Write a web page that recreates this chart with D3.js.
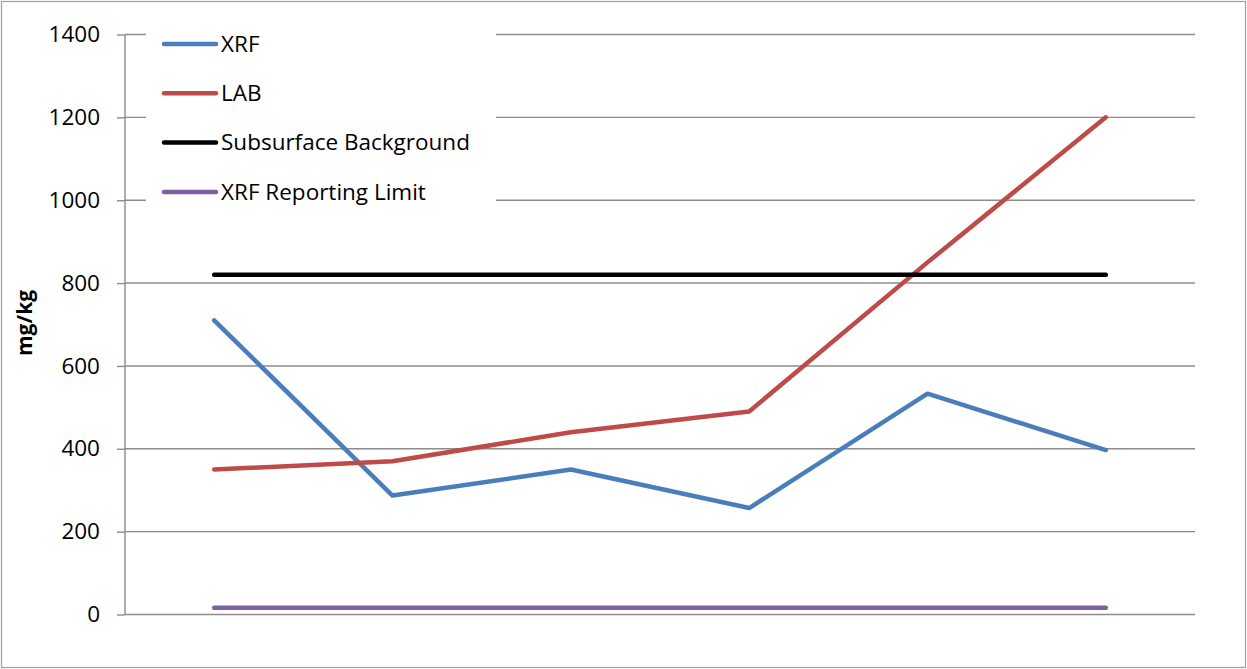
<!DOCTYPE html>
<html><head><meta charset="utf-8">
<script src="https://cdn.jsdelivr.net/npm/d3@7"></script>
<style>html,body{margin:0;padding:0;background:#fff;}svg{display:block;}</style>
</head><body><svg id="c" width="1247" height="669"></svg>
<script>
const categories = ["1","2","3","4","5","6"];
const xrf = [710, 287, 350, 257, 533, 397];
const lab = [350, 370, 440, 490, 850, 1200];
const background = [820, 820, 820, 820, 820, 820];
const reportingLimit = [16, 16, 16, 16, 16, 16];
const yTicks = [0, 200, 400, 600, 800, 1000, 1200, 1400];
const seriesNames = ["XRF", "LAB", "Subsurface Background", "XRF Reporting Limit"];
const seriesColors = ["#4a7ebb", "#be4b48", "#000000", "#7d60a0"];
const yLabel = "mg/kg";

const svg = d3.select("#c");
const font = "'Open Sans', sans-serif";
const L = 125, R = 1195, T = 34.5, B = 614.5;

svg.append("rect").attr("x",1.5).attr("y",1.5).attr("width",1244).attr("height",666)
  .attr("fill","#fff").attr("stroke","#a0a0a0").attr("stroke-width",1.2);

const x = d3.scalePoint().domain(categories).range([L, R]).padding(0.5);
const y = d3.scaleLinear().domain([0, 1400]).range([B, T]);

// gridlines
svg.append("g").selectAll("line").data(yTicks.filter(d=>d>0)).join("line")
  .attr("x1", L).attr("x2", R).attr("y1", d=>y(d)).attr("y2", d=>y(d))
  .attr("stroke","#8c8c8c").attr("stroke-width",1.4);

// y axis
const ya = svg.append("g").attr("transform",`translate(${L},0)`)
  .call(d3.axisLeft(y).tickValues(yTicks).tickSize(8).tickPadding(17).tickFormat(d3.format("d")));
ya.select(".domain").attr("stroke","#8c8c8c").attr("stroke-width",1.4).attr("d",`M0,${T}V${B}`);
ya.selectAll(".tick line").attr("stroke","#8c8c8c").attr("stroke-width",1.4);
ya.selectAll(".tick text").attr("font-family",font).attr("font-size",22.5).attr("fill","#000");

// x axis line
svg.append("line").attr("x1",L).attr("x2",R).attr("y1",B).attr("y2",B)
  .attr("stroke","#8c8c8c").attr("stroke-width",1.4);

// y label
svg.append("text").attr("transform",`translate(32,${323}) rotate(-90)`)
  .attr("text-anchor","middle").attr("font-family",font).attr("font-weight","bold")
  .attr("font-size",21).text(yLabel);

// legend box
const legendBoxX = 146, legendBoxY = 22, legendBoxW = 350, legendBoxH = 190;
svg.append("rect").attr("x",legendBoxX).attr("y",legendBoxY).attr("width",legendBoxW).attr("height",legendBoxH).attr("fill","#fff");

// series
const allSeries = [xrf, lab, background, reportingLimit];
const line = d3.line().x((d,i)=>x(categories[i])).y(d=>y(d));
allSeries.forEach((s,k)=>{
  svg.append("path").attr("d", line(s)).attr("fill","none")
    .attr("stroke", seriesColors[k]).attr("stroke-width",4.5)
    .attr("stroke-linecap","round").attr("stroke-linejoin","round");
});

// legend
const lg = svg.append("g");
seriesNames.forEach((n,k)=>{
  const yy = 44 + k*49.3;
  lg.append("line").attr("x1",164).attr("x2",216).attr("y1",yy).attr("y2",yy)
    .attr("stroke",seriesColors[k]).attr("stroke-width",4.5).attr("stroke-linecap","round");
  lg.append("text").attr("x",221).attr("y",yy).attr("dy","0.35em")
    .attr("font-family",font).attr("font-size",22.5).attr("fill","#000").text(n);
});
</script></body></html>
